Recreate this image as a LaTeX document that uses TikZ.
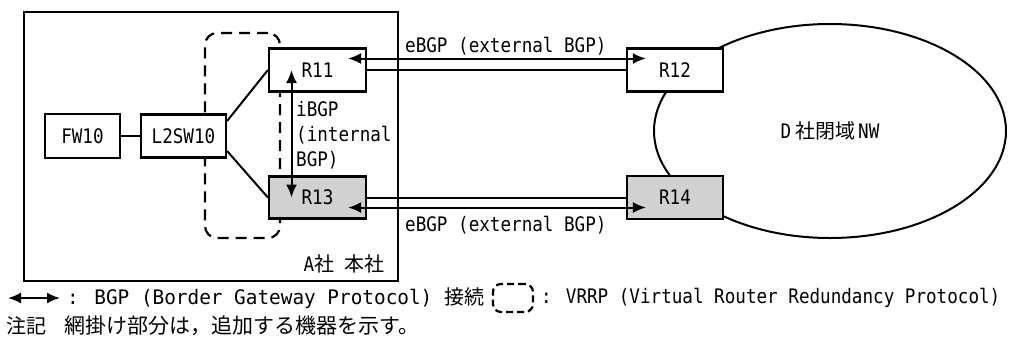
\documentclass[tikz,border=0pt]{standalone}
\usepackage{fontspec}
\setmainfont{DejaVu Sans Mono}[FakeStretch=0.88]
\newfontfamily\jpfont{Noto Sans CJK JP}
\usepackage{graphicx}
\usetikzlibrary{shapes.geometric,arrows.meta}

\begin{document}
\begin{tikzpicture}[
				x=1pt, y=-1pt,                          % pixel grid of the figure, y downwards
				font=\fontsize{20}{25}\selectfont,
				>={Latex[length=13pt,width=11pt]},
				box/.style={draw, line width=2.2pt, fill=white, inner sep=0pt},
				added/.style={box, fill=black!18},      % shaded = added equipment
				link/.style={draw, line width=2pt},
				bgp/.style={<->, line width=2pt},
				vrrp/.style={draw, line width=2.2pt, dash pattern=on 11pt off 7pt, rounded corners=12pt},
				txt/.style={inner sep=0pt}
				]
				\useasboundingbox (0,0) rectangle (1012,341);
				% areas
				\node[box, minimum width=374pt, minimum height=269pt] (hq) at (211,146.5) {};
				\node[vrrp, minimum width=75pt, minimum height=205pt] (vrrp) at (242.5,135.5) {};
				\node[draw, ellipse, line width=2pt, inner sep=0pt, minimum width=352pt, minimum height=214pt] (dnw) at (830,131) {D\hspace{4pt}{\jpfont 社閉域}\hspace{3pt}NW};
				\node[txt, anchor=east] (hqname) at ([shift={(-14pt,18pt)}]hq.south east) {A{\jpfont 社}~{\jpfont 本社}};
				% equipment
				\node[box, minimum width=75pt, minimum height=44pt] (fw10) at (82.5,136) {FW10};
				\node[box, minimum width=85pt, minimum height=43pt] (l2sw10) at (183.5,136) {L2SW10};
				\node[box, minimum width=97pt, minimum height=43pt] (r11) at (317.5,70) {R11};
				\node[added, minimum width=97pt, minimum height=42pt] (r13) at (317.5,197.5) {R13};
				\node[box, minimum width=96pt, minimum height=43pt] (r12) at (675,70) {R12};
				\node[added, minimum width=96pt, minimum height=43pt] (r14) at (675,197.5) {R14};
				% physical links
				\draw[link] (fw10) -- (l2sw10);
				\draw[link] ([yshift=15pt]l2sw10.east) -- (r11.west);
				\draw[link] ([yshift=-15pt]l2sw10.east) -- (r13.west);
				\draw[link] (r11.east) -- (r12.west);
				\draw[link] (r13.east) -- (r14.west);
				% BGP sessions
				\draw[bgp] ([shift={(-19pt,11.5pt)}]r11.east) -- ([shift={(20pt,11.5pt)}]r12.west);
				\draw[bgp] ([shift={(-19pt,-10pt)}]r13.east) -- ([shift={(20pt,-10pt)}]r14.west);
				\draw[bgp] ([xshift=-26pt]r11.center) -- ([xshift=-26pt]r13.center);
				\node[txt, anchor=west] (ebgpup) at (405,46) {eBGP (external BGP)};
				\node[txt, anchor=west] (ebgpdown) at (405,225) {eBGP (external BGP)};
				\node[txt, anchor=west, align=left] (ibgp) at (296,135) {iBGP\\(internal\\BGP)};
				% legend
				\coordinate (keyl) at (8,298);
				\coordinate (keyr) at (60,298);
				\draw[bgp] (keyl) -- (keyr);
				\node[txt, anchor=west] (bgpkey) at (67,298) {\scalebox{1.1}[1]{: BGP (Border Gateway Protocol)}\hspace{12pt}{\jpfont 接続}};
				\node[vrrp, rounded corners=8pt, dash pattern=on 7pt off 4pt, minimum width=40pt, minimum height=28pt] (vrrpkey) at (513,298) {};
				\node[txt, anchor=west] (vrrptxt) at (541,298) {: VRRP (Virtual Router Redundancy Protocol)};
				\node[txt, anchor=west] (note) at (6,326) {\jpfont 注記};
				\node[txt, anchor=west] (notetxt) at (64,326) {\jpfont\fontsize{21}{25}\selectfont 網掛け部分は，追加する機器を示す。};
			\end{tikzpicture}
\end{document}
